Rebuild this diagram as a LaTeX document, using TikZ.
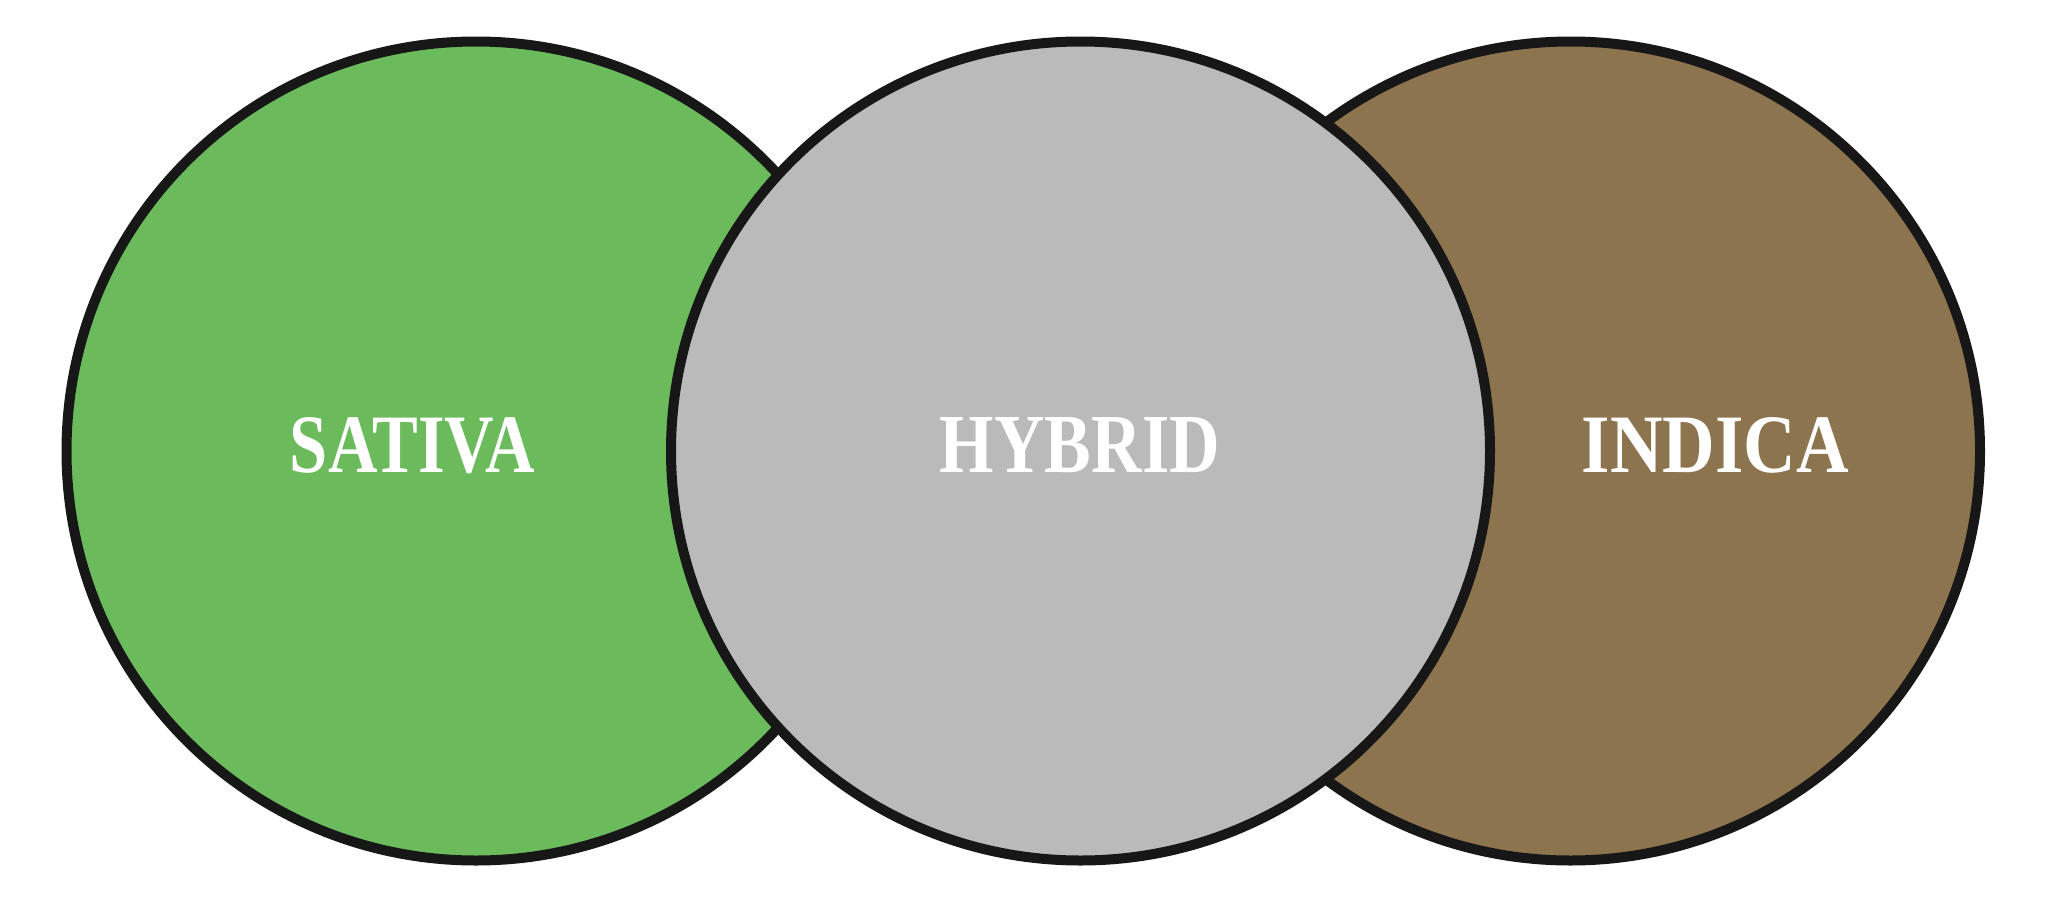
\documentclass[tikz,border=0pt]{standalone}
\usepackage{fontspec}
\setmainfont{Liberation Serif}
\usepackage{graphicx}
\definecolor{sativagreen}{HTML}{6BBB5C}
\definecolor{hybridgray}{HTML}{BABABA}
\definecolor{indicabrown}{HTML}{8C744E}
\definecolor{ringblack}{HTML}{171717}
\begin{document}
\begin{tikzpicture}[x=1pt,y=1pt,
  ring/.style={circle, draw=ringblack, line width=10pt, minimum size=819pt, inner sep=0pt},
  label/.style={anchor=base, text=white, inner sep=0pt, font=\bfseries}]
\useasboundingbox (0,0) rectangle (2048,-905);
\fill[white] (0,0) rectangle (2048,-905);
\node[ring, fill=sativagreen] (sativa) at (476,-451) {};
\node[ring, fill=indicabrown] (indica) at (1570.5,-451) {};
\node[ring, fill=hybridgray] (hybrid) at (1080.5,-451) {};
\node[label] (tsativa) at (412.5,-472) {\resizebox{245pt}{55pt}{SATIVA}};
\node[label] (thybrid) at (1080,-472) {\resizebox{280pt}{55pt}{HYBRID}};
\node[label] (tindica) at (1715.5,-472) {\resizebox{267pt}{55pt}{INDICA}};
\end{tikzpicture}
\end{document}
